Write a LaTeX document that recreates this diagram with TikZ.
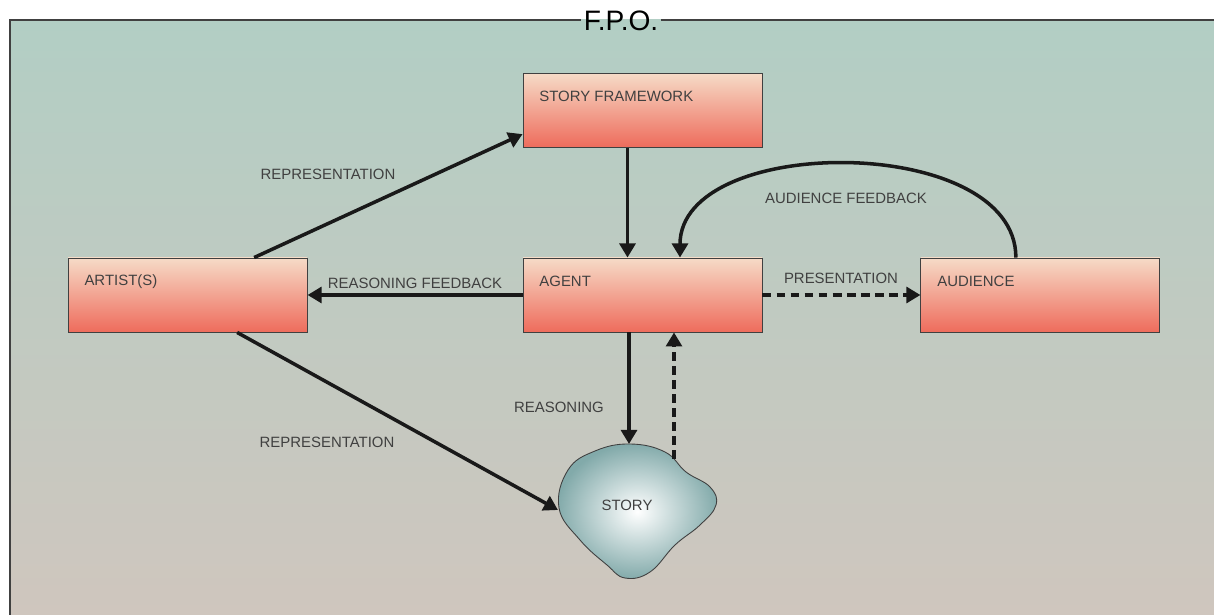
\documentclass[tikz,border=0pt]{standalone}
\usepackage{fontspec}
\setmainfont{Liberation Sans}
\usetikzlibrary{arrows.meta,calc,positioning}

\definecolor{bgtop}{RGB}{178,206,196}
\definecolor{bgbottom}{RGB}{207,198,190}
\definecolor{boxtop}{RGB}{246,219,199}
\definecolor{boxbottom}{RGB}{238,108,92}
\definecolor{storyedge}{RGB}{130,170,170}
\definecolor{inkgray}{RGB}{64,64,64}

\tikzset{
	boxtext/.style={text=inkgray, font=\fontsize{8.5}{10}\selectfont, inner sep=0pt},
	caption/.style={text=inkgray, font=\fontsize{8.5}{10}\selectfont, inner sep=0pt},
	box/.style={draw=inkgray, line width=0.5pt, top color=boxtop, bottom color=boxbottom,
		minimum width=4.78cm, minimum height=1.48cm, inner sep=0pt,
		label={[boxtext, anchor=west, xshift=0.33cm, yshift=-0.48cm]north west:#1}},
	flow/.style={line width=2pt, color=black!90, -{Triangle[length=8pt,width=9pt]}},
	dashflow/.style={flow, dash pattern=on 5pt off 3pt},
}

\begin{document}
\begin{tikzpicture}
			%%%%% START %%%%%
			\useasboundingbox (0, 0) rectangle (24.28, 12.3);
			
			\shade[top color=bgtop, bottom color=bgbottom] (0.2, 0) rectangle (24.28, 11.9);
			\node[font=\fontsize{16}{18}\selectfont, inner sep=1.5pt] (fpo) at (12.42, 11.88) {F.P.O.};
			\draw[line width=0.8pt, color=inkgray] (fpo.west |- 0, 11.9) -- (0.2, 11.9) -- (0.2, 0);
			\draw[line width=0.8pt, color=inkgray] (fpo.east |- 0, 11.9) -- (24.28, 11.9);
			
			\node[box=AGENT] (agent) at (12.85, 6.4) {};
			\node[box=ARTIST(S), left=4.3cm of agent] (artist) {};
			\node[box=AUDIENCE, right=3.16cm of agent] (audience) {};
			\node[box=STORY FRAMEWORK, above=2.2cm of agent] (framework) {};
			
			% story blob
			\draw[draw=inkgray, line width=0.5pt, inner color=white, outer color=storyedge]
				plot[smooth cycle, tension=0.7] coordinates {(12.60, 3.42) (13.30, 3.26) (13.72, 2.86) (14.20, 2.56) (14.32, 2.20) (14.00, 1.80) (13.50, 1.40) (13.00, 0.86) (12.50, 0.74) (12.14, 1.00) (11.60, 1.50) (11.18, 2.14) (11.36, 2.90) (11.90, 3.28)};
			\node[boxtext] (story) at (12.54, 2.20) {STORY};
			\coordinate (storytop) at (12.58, 3.42);
			\coordinate (storyne) at (13.48, 3.12);
			\coordinate (storyw) at (11.16, 2.10);
			
			\draw[flow] ([xshift=1.33cm]artist.north) -- ([yshift=-0.48cm]framework.west);
			\draw[flow] ([xshift=-0.3cm]framework.south) -- ([xshift=-0.3cm]agent.north);
			\draw[flow] (agent.west) -- (artist.east);
			\draw[dashflow] (agent.east) -- (audience.west);
			\draw[flow] ([xshift=-0.49cm]audience.north) to[out=90, in=90, looseness=0.95] ([xshift=0.75cm]agent.north);
			\draw[flow] (storytop |- agent.south) -- (storytop);
			\draw[dashflow] (storyne) -- (storyne |- agent.south);
			\draw[flow] ([xshift=0.99cm]artist.south) -- (storyw);
			
			\node[caption] (repup) at (6.56, 8.82) {REPRESENTATION};
			\node[caption] (reasonfb) at (8.30, 6.64) {REASONING FEEDBACK};
			\node[caption] (present) at (16.82, 6.74) {PRESENTATION};
			\node[caption] (audfb) at (16.92, 8.34) {AUDIENCE FEEDBACK};
			\node[caption] (reason) at (11.18, 4.16) {REASONING};
			\node[caption] (repdown) at (6.54, 3.46) {REPRESENTATION};
			
			%%%%% END %%%%%
\end{tikzpicture}
\end{document}
